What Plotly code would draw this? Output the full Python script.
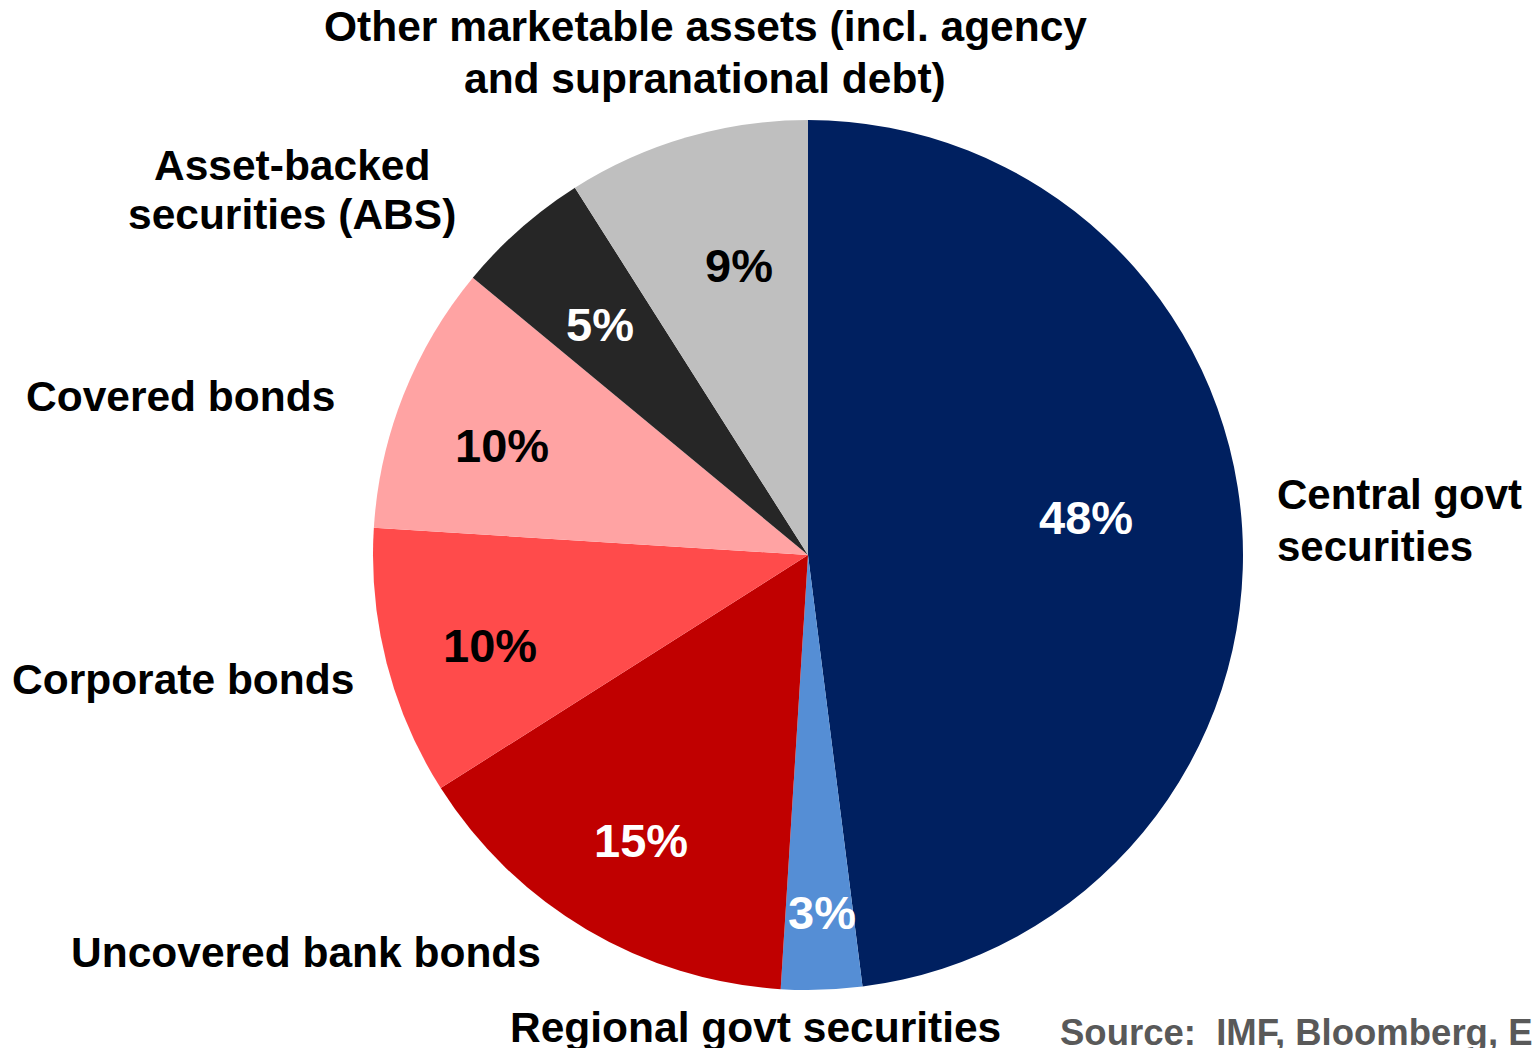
import plotly.graph_objects as go

# Composition of marketable collateral, share of total (%)
categories = [
    "Central govt securities",
    "Regional govt securities",
    "Uncovered bank bonds",
    "Corporate bonds",
    "Covered bonds",
    "Asset-backed securities (ABS)",
    "Other marketable assets (incl. agency and supranational debt)",
]
shares = [48, 3, 15, 10, 10, 5, 9]

slice_colors = ["#002060", "#558ED5", "#C00000", "#FF4B4B", "#FFA3A3", "#262626", "#BFBFBF"]
pct_text_colors = ["white", "white", "white", "black", "black", "white", "black"]

W, H = 1533, 1048
CX, CY, R = 808, 555, 435  # pie centre and radius in pixels

FONT = "Arial, 'Liberation Sans', sans-serif"


def px(x):
    return x / W


def py(y):
    return 1 - y / H


fig = go.Figure(
    go.Pie(
        labels=categories,
        values=shares,
        sort=False,
        direction="clockwise",
        rotation=0,
        marker=dict(colors=slice_colors, line=dict(width=0)),
        textinfo="none",
        hoverinfo="label+percent",
        showlegend=False,
        domain=dict(x=[px(CX - R), px(CX + R)], y=[py(CY + R), py(CY - R)]),
    )
)

# Percentage labels inside the slices (pixel anchor of each label)
pct_label_xy = [(1086, 517), (822, 912), (641, 840), (490, 645), (502, 446), (600, 325), (739, 265)]

annotations = []
for val, (x, y), col in zip(shares, pct_label_xy, pct_text_colors):
    annotations.append(dict(
        x=px(x), y=py(y), xref="paper", yref="paper",
        text=f"{val}%", showarrow=False,
        xanchor="center", yanchor="middle",
        font=dict(family=FONT, size=47, color=col, weight="bold"),
    ))

# Category labels around the pie, one entry per text line
cat_label_lines = [
    ("Central govt", 1275, 495, "left", 42),
    ("securities", 1275, 546, "left", 42),
    ("Regional govt securities", 755, 1027, "center", 42.5),
    ("Uncovered bank bonds", 306, 952, "center", 42.5),
    ("Corporate bonds", 183, 679, "center", 42.5),
    ("Covered bonds", 180, 396, "center", 42.5),
    ("Asset-backed", 292, 165, "center", 42.5),
    ("securities (ABS)", 292, 215, "center", 42.5),
    ("Other marketable assets (incl. agency", 705, 27, "center", 42.5),
    ("and supranational debt)", 705, 78, "center", 42.5),
]
for text, x, y, anchor, size in cat_label_lines:
    annotations.append(dict(
        x=px(x), y=py(y), xref="paper", yref="paper",
        text=text, showarrow=False,
        xanchor=anchor, yanchor="middle", align=anchor,
        font=dict(family=FONT, size=size, color="black", weight="bold"),
    ))

annotations.append(dict(
    x=px(1058), y=py(1032), xref="paper", yref="paper",
    text="Source:\u00a0\u00a0IMF, Bloomberg, ECB",
    showarrow=False, xanchor="left", yanchor="middle",
    font=dict(family=FONT, size=36.5, color="#595959", weight="bold"),
))

fig.update_layout(
    width=W, height=H,
    margin=dict(l=0, r=0, t=0, b=0),
    paper_bgcolor="white", plot_bgcolor="white",
    annotations=annotations,
)

fig.write_html("out.html", config={"displayModeBar": False})
